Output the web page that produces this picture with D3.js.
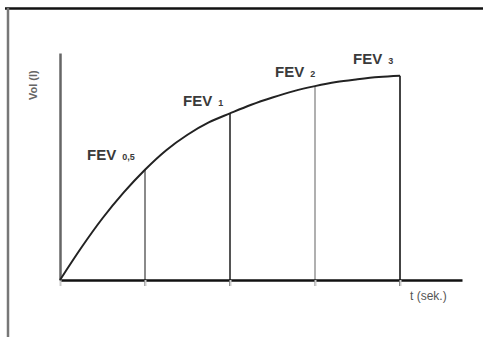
<!DOCTYPE html>
<html>
<head>
<meta charset="utf-8">
<script src="https://cdn.jsdelivr.net/npm/d3@7/dist/d3.min.js"></script>
<style>
  html, body { margin: 0; padding: 0; background: #fff; }
  svg { display: block; }
</style>
</head>
<body>
<svg id="chart" width="483" height="337"></svg>
<script>
// Forced expiration: exhaled volume over time
const curveTime   = [0, 0.125, 0.25, 0.375, 0.5, 0.625, 0.75, 0.875, 1.0, 1.25, 1.5, 1.75, 2.0, 2.25, 2.5, 2.75, 3.0];
const curveVolume = [0, 0.71, 1.36, 1.93, 2.43, 2.86, 3.20, 3.47, 3.67, 3.86, 4.02, 4.16, 4.27, 4.36, 4.42, 4.47, 4.50];

// Timed expiratory volumes marked on the curve
const fevTimes  = [0.5, 1, 2, 3];
const fevVolume = [2.43, 3.67, 4.27, 4.50];
const fevLabels = ["0,5", "1", "2", "3"];
const fevColors = ["#8a8a8a", "#555", "#b0b0b0", "#444"];

const tickTimes = [0, 0.5, 1, 2, 3];
const xTitle = "t (sek.)";
const yTitle = "Vol (l)";

const svg = d3.select("#chart");

// Frame
svg.append("line").attr("x1", 5).attr("x2", 483).attr("y1", 8.5).attr("y2", 8.5)
  .attr("stroke", "#111").attr("stroke-width", 2.5);
svg.append("line").attr("x1", 8).attr("x2", 8).attr("y1", 8).attr("y2", 337)
  .attr("stroke", "#777").attr("stroke-width", 2.5);

// Time axis is stretched: the first second is drawn wider than the later ones
const x = d3.scaleLinear()
  .domain([0, 0.5, 1, 2, 3, 3.73])
  .range([60, 145, 230, 315, 400, 462]);
const y = d3.scaleLinear().domain([0, 5]).range([280, 53]);

// Vertical markers
const fev = fevTimes.map((t, i) => ({ t, v: fevVolume[i], label: fevLabels[i], color: fevColors[i] }));
svg.append("g").selectAll("line").data(fev).join("line")
  .attr("x1", d => x(d.t)).attr("x2", d => x(d.t))
  .attr("y1", y(0) + 6).attr("y2", d => y(d.v))
  .attr("stroke", d => d.color).attr("stroke-width", 2);

// Axes
const xAxis = svg.append("g").attr("transform", `translate(0,${y(0)})`)
  .call(d3.axisBottom(x).tickValues(tickTimes).tickSize(6).tickSizeOuter(0).tickFormat(""));
xAxis.select(".domain").attr("stroke", "#111").attr("stroke-width", 2.5);
xAxis.selectAll(".tick line").attr("stroke", "#ccc").attr("stroke-width", 2);

const yAxis = svg.append("g").attr("transform", `translate(${x(0)},0)`)
  .call(d3.axisLeft(y).tickValues([]).tickSizeOuter(0));
yAxis.select(".domain").attr("stroke", "#666").attr("stroke-width", 2.5);

// Volume curve
const line = d3.line()
  .x(d => x(d[0])).y(d => y(d[1]))
  .curve(d3.curveMonotoneX);
svg.append("path")
  .datum(curveTime.map((t, i) => [t, curveVolume[i]]))
  .attr("d", line)
  .attr("fill", "none").attr("stroke", "#222").attr("stroke-width", 2);

// FEV labels
const labelOffset = [[-58, -10], [-47, -7], [-40, -9], [-47, -12]];
const labels = svg.append("g").selectAll("text").data(fev).join("text")
  .attr("x", (d, i) => x(d.t) + labelOffset[i][0])
  .attr("y", (d, i) => y(d.v) + labelOffset[i][1])
  .attr("font-family", "Liberation Sans, Arial, sans-serif")
  .attr("font-weight", "bold")
  .attr("fill", "#3a3a3a");
labels.append("tspan").attr("font-size", 15).text("FEV");
labels.append("tspan").attr("font-size", 9).attr("dx", 6).text(d => d.label);

// Axis titles
svg.append("text")
  .attr("x", 410).attr("y", 300)
  .attr("font-family", "Liberation Sans, Arial, sans-serif")
  .attr("font-size", 12).attr("fill", "#555")
  .text(xTitle);
svg.append("text")
  .attr("transform", "translate(37,100) rotate(-90)")
  .attr("font-family", "Liberation Sans, Arial, sans-serif")
  .attr("font-size", 11).attr("font-weight", "bold").attr("fill", "#666")
  .text(yTitle);
</script>
</body>
</html>
